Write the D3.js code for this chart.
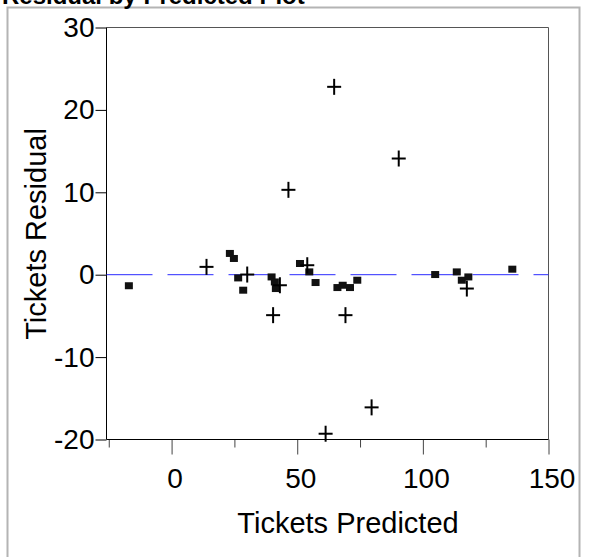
<!DOCTYPE html>
<html>
<head>
<meta charset="utf-8">
<script src="https://cdn.jsdelivr.net/npm/d3@7"></script>
<style>
  body { margin: 0; background: #fff; }
  text { font-family: "Liberation Sans", Arial, sans-serif; }
</style>
</head>
<body>
<div id="chart"></div>
<script>
// residual plot data
var squareX = [-17.0, 23.2, 24.8, 26.5, 28.5, 39.8, 41.1, 41.5, 51.1, 54.8, 57.3, 66.0, 68.1, 71.0, 73.9, 104.9, 113.5, 115.5, 118.1, 135.6];
var squareY = [-1.34, 2.58, 1.97, -0.39, -1.88, -0.27, -0.88, -1.68, 1.36, 0.34, -0.95, -1.56, -1.28, -1.56, -0.67, 0.02, 0.34, -0.67, -0.27, 0.67];
var plusX = [13.9, 30.1, 43.1, 54.0, 117.5, 64.7, 90.4, 46.5, 40.4, 69.2, 79.6, 61.3];
var plusY = [0.95, 0.02, -1.28, 1.15, -1.68, 22.8, 14.1, 10.3, -4.91, -4.91, -16.1, -19.3];
var xMajor = [0, 50, 100, 150];
var xMinor = [-25, 25, 75, 125];
var yTicks = [-20, -10, 0, 10, 20, 30];

var width = 590, height = 557;
var plotLeft = 106.5, plotRight = 548.5, plotTop = 27.5, plotBottom = 439.5;

var xScale = d3.scaleLinear().domain([-25.9, 150]).range([plotLeft, plotRight]);
var yScale = d3.scaleLinear().domain([-20, 30]).range([plotBottom, plotTop]);

// plain hyphen for negatives, like the original
var plainFormat = function(d) { return String(d); };

var svg = d3.select("#chart").append("svg")
  .attr("width", width)
  .attr("height", height);

// outer gray box
svg.append("rect")
  .attr("x", 7.5)
  .attr("y", 7.5)
  .attr("width", 572)
  .attr("height", 560)
  .attr("fill", "none")
  .attr("stroke", "#b4b4b4")
  .attr("stroke-width", 2);

// title, cut off at the top
svg.append("text")
  .attr("x", 2)
  .attr("y", 4)
  .text("Residual by Predicted Plot")
  .style("font-size", "24px")
  .style("font-weight", "bold");

// x ticks: major then minor
svg.append("g")
  .attr("transform", "translate(0," + plotBottom + ")")
  .call(d3.axisBottom(xScale).tickValues(xMajor).tickSize(15).tickPadding(13.5).tickFormat(plainFormat))
  .call(function(g) { g.select(".domain").remove(); })
  .call(function(g) {
    g.selectAll("line").attr("stroke", "#444");
    g.selectAll("text").attr("dx", 3).style("font-size", "28px").attr("fill", "#000");
  });

svg.append("g")
  .attr("transform", "translate(0," + plotBottom + ")")
  .call(d3.axisBottom(xScale).tickValues(xMinor).tickSize(8).tickFormat(""))
  .call(function(g) { g.select(".domain").remove(); })
  .call(function(g) { g.selectAll("line").attr("stroke", "#444"); });

// y ticks
svg.append("g")
  .attr("transform", "translate(" + plotLeft + ",0)")
  .call(d3.axisLeft(yScale).tickValues(yTicks).tickSize(11).tickPadding(1).tickFormat(plainFormat))
  .call(function(g) { g.select(".domain").remove(); })
  .call(function(g) {
    g.selectAll("line").attr("stroke", "#000");
    g.selectAll("text").style("font-size", "28px").attr("fill", "#000");
  });

// frame
svg.append("line")
  .attr("x1", plotLeft).attr("x2", plotRight)
  .attr("y1", plotTop).attr("y2", plotTop)
  .attr("stroke", "#555");
svg.append("line")
  .attr("x1", plotRight).attr("x2", plotRight)
  .attr("y1", plotTop).attr("y2", plotBottom)
  .attr("stroke", "#555");
svg.append("line")
  .attr("x1", plotLeft).attr("x2", plotLeft)
  .attr("y1", plotTop).attr("y2", plotBottom)
  .attr("stroke", "#000");
svg.append("line")
  .attr("x1", plotLeft).attr("x2", plotRight)
  .attr("y1", plotBottom).attr("y2", plotBottom)
  .attr("stroke", "#000");

// zero reference line
svg.append("line")
  .attr("x1", plotLeft).attr("x2", plotRight)
  .attr("y1", yScale(0)).attr("y2", yScale(0))
  .attr("stroke", "#2a2aff")
  .attr("stroke-width", 1)
  .attr("stroke-dasharray", "46,15");

// square markers
svg.append("g").selectAll("rect")
  .data(squareX)
  .enter().append("rect")
  .attr("x", function(d) { return xScale(d) - 4; })
  .attr("y", function(d, i) { return yScale(squareY[i]) - 3.5; })
  .attr("width", 8)
  .attr("height", 7)
  .attr("fill", "#111");

// plus markers
var plus = svg.append("g").attr("stroke", "#000").attr("stroke-width", 2);
plusX.forEach(function(d, i) {
  var cx = xScale(d), cy = yScale(plusY[i]);
  plus.append("line")
    .attr("x1", cx - 7).attr("x2", cx + 7)
    .attr("y1", cy).attr("y2", cy);
  plus.append("line")
    .attr("x1", cx).attr("x2", cx)
    .attr("y1", cy - 8).attr("y2", cy + 8);
});

// axis titles
svg.append("text")
  .text("Tickets Predicted")
  .attr("x", 348)
  .attr("y", 533)
  .attr("text-anchor", "middle")
  .style("font-size", "29px");

svg.append("text")
  .text("Tickets Residual")
  .attr("transform", "rotate(-90)")
  .attr("x", -234)
  .attr("y", 46)
  .attr("text-anchor", "middle")
  .style("font-size", "29px");
</script>
</body>
</html>
